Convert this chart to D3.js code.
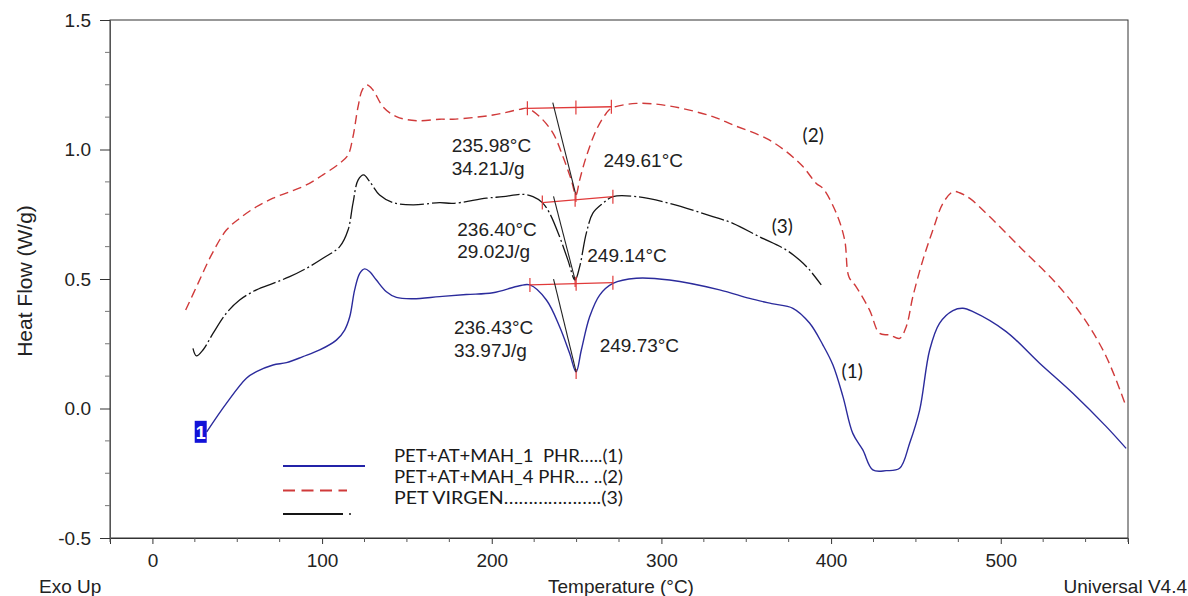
<!DOCTYPE html>
<html>
<head>
<meta charset="utf-8">
<script src="https://cdn.jsdelivr.net/npm/d3@7"></script>
<style>
  html, body { margin: 0; padding: 0; background: #fff; }
  svg { display: block; }
  .ax text { font-family: "Liberation Sans", Arial, sans-serif; font-size: 19px; fill: #222; }
  .lbl { font-family: "Liberation Sans", Arial, sans-serif; font-size: 19px; fill: #222; }
  .cal { font-family: Lato, "Open Sans", sans-serif; font-size: 18px; fill: #1a1a1a; white-space: pre; }
</style>
</head>
<body>
<svg id="chart" width="1188" height="596"></svg>
<script>
// ---------- DATA ----------
// Curve (1) PET+AT+MAH_1 PHR : [Temperature °C, Heat Flow W/g]
const curve1 = [[32,-0.09],[43.6,0.02],[55.4,0.117],[61.3,0.142],[71.1,0.168],[79,0.177],[88.7,0.2],[98.6,0.226],[108.4,0.264],[113.3,0.303],[116.3,0.354],[119.2,0.458],[122.2,0.522],[125.1,0.539],[128.1,0.528],[132,0.496],[137.9,0.451],[143.8,0.429],[153.6,0.424],[169.3,0.432],[185,0.44],[200.7,0.447],[216.4,0.474],[222.5,0.477],[232.2,0.419],[240,0.316],[245.9,0.213],[249.7,0.141],[252.8,0.226],[257.7,0.354],[263.6,0.438],[271.4,0.483],[285.2,0.503],[304.8,0.496],[334.3,0.458],[352,0.425],[365,0.405],[377.5,0.387],[387.3,0.33],[395.2,0.245],[401.1,0.168],[407,0.046],[412.8,-0.096],[418.7,-0.16],[424.6,-0.237],[432.5,-0.24],[440.4,-0.231],[446.3,-0.134],[452.2,-0.006],[458.1,0.226],[463.9,0.329],[471.8,0.378],[477.7,0.387],[483.6,0.374],[503.2,0.297],[522.9,0.175],[542.5,0.059],[562.2,-0.07],[573.9,-0.154]];
// Curve (2) PET+AT+MAH_4 PHR
const curve2 = [[19.6,0.38],[26.9,0.483],[34.8,0.593],[43.6,0.689],[51.4,0.734],[61.3,0.779],[71.1,0.812],[80.9,0.837],[90.7,0.863],[100.5,0.902],[110.4,0.947],[115.3,0.979],[118.2,1.049],[121.2,1.165],[123.7,1.23],[126.5,1.249],[130,1.23],[135.9,1.165],[143.8,1.127],[155.6,1.111],[169.3,1.117],[177.1,1.117],[200.7,1.133],[216.4,1.155],[221,1.159],[228.2,1.127],[236.1,1.063],[242,0.972],[246.9,0.882],[249.6,0.824],[251.8,0.882],[255.7,0.972],[261.6,1.075],[267.5,1.14],[270.5,1.159],[285.2,1.178],[304.8,1.168],[330.3,1.127],[342.1,1.095],[361.8,1.043],[373.6,0.992],[383.4,0.934],[391.3,0.869],[395.2,0.85],[403.1,0.754],[408,0.651],[410.5,0.509],[414.8,0.47],[422.7,0.38],[428.6,0.29],[434.5,0.284],[440.4,0.271],[444.3,0.316],[448.2,0.432],[454.1,0.573],[460,0.689],[465.9,0.792],[471.8,0.837],[475.7,0.833],[481.6,0.812],[493.4,0.741],[513,0.612],[532.7,0.483],[548.4,0.354],[562.2,0.2],[573.9,0.007]];
// Curve (3) PET VIRGEN
const curve3 = [[23.9,0.232],[25.9,0.203],[29.8,0.226],[35.7,0.29],[43.6,0.368],[51.4,0.419],[61.3,0.458],[71.1,0.483],[80.9,0.509],[90.7,0.541],[100.5,0.58],[110.4,0.625],[115.3,0.689],[118.2,0.792],[121.2,0.882],[124.5,0.902],[128.1,0.876],[133.9,0.824],[141.8,0.795],[153.6,0.786],[169.3,0.795],[177.1,0.792],[196.8,0.812],[206.6,0.818],[218.4,0.827],[224.3,0.818],[229.8,0.795],[234.1,0.754],[240,0.663],[244.9,0.573],[249.1,0.496],[251.8,0.547],[255.7,0.676],[259.6,0.754],[265.5,0.792],[271.4,0.818],[285.2,0.818],[304.8,0.792],[330.3,0.741],[342.1,0.715],[357.8,0.663],[373.6,0.612],[381.4,0.573],[387.3,0.535],[394.2,0.477]];

const xTicks = [0, 100, 200, 300, 400, 500];
const yTicks = [-0.5, 0.0, 0.5, 1.0, 1.5];
const yTickLabels = ["-0.5", "0.0", "0.5", "1.0", "1.5"];
const legendLabels = ["PET+AT+MAH_1  PHR…..(1)", "PET+AT+MAH_4 PHR… ..(2)", "PET VIRGEN………………..(3)"];
const curveTags = ["(1)", "(2)", "(3)"];
const curveTagPos = [[406.2, 0.118], [383.2, 1.029], [365.0, 0.678]];

// melting-peak integrations, order: curve 2, curve 3, curve 1
const meltOnset = [235.98, 236.40, 236.43];
const meltEnthalpy = ["34.21J/g", "29.02J/g", "33.97J/g"];
const meltPeakT = [249.61, 249.14, 249.73];
const meltPeakV = [0.824, 0.496, 0.141];
const baseStart = [[221.0, 1.159], [229.8, 0.795], [222.5, 0.477]];
const baseEnd = [[270.5, 1.165], [271.4, 0.818], [271.4, 0.486]];
const onsetLabelPos = [[176.4, 0.990], [179.7, 0.667], [177.7, 0.288]];
const enthLabelPos = [[176.4, 0.902], [179.7, 0.581], [177.7, 0.198]];
const peakLabelPos = [[265.9, 0.931], [256.3, 0.564], [263.6, 0.219]];

// ---------- DRAW ----------
const svg = d3.select("#chart");
const x = d3.scaleLinear().domain([-25, 575]).range([110, 1128]);
const y = d3.scaleLinear().domain([-0.5, 1.5]).range([538, 20]);

const blue = "#2b2b9c", red = "#d03a3a", black = "#151515";

// frame
svg.append("rect").attr("x", x(-25)).attr("y", y(1.5))
  .attr("width", x(575) - x(-25)).attr("height", y(-0.5) - y(1.5))
  .attr("fill", "none").attr("stroke", "#333").attr("stroke-width", 1);

// x axis
const gx = svg.append("g").attr("class", "ax").attr("transform", `translate(0,${y(-0.5)})`)
  .call(d3.axisBottom(x).tickValues(xTicks).tickSize(6).tickPadding(10).tickFormat(d3.format("d")));
gx.select(".domain").attr("stroke", "#333");
gx.selectAll(".tick line").attr("stroke", "#333");
const xMinor = d3.range(-25, 576, 25).filter(v => !xTicks.includes(v));
svg.append("g").selectAll("line").data(xMinor).join("line")
  .attr("x1", d => x(d)).attr("x2", d => x(d))
  .attr("y1", y(-0.5)).attr("y2", y(-0.5) + 4).attr("stroke", "#555");

// y axis
const gy = svg.append("g").attr("class", "ax").attr("transform", `translate(${x(-25)},0)`)
  .call(d3.axisLeft(y).tickValues(yTicks).tickSize(10).tickPadding(9)
    .tickFormat((d, i) => yTickLabels[i]));
gy.select(".domain").attr("stroke", "#555");
gy.selectAll(".tick line").attr("stroke", "#333");
const yMinor = d3.range(-0.5, 1.5001, 0.125).filter(v => !yTicks.some(t => Math.abs(t - v) < 1e-6));
svg.append("g").selectAll("line").data(yMinor).join("line")
  .attr("x1", x(-25) - 5).attr("x2", x(-25))
  .attr("y1", d => y(d)).attr("y2", d => y(d)).attr("stroke", "#777");

// axis titles
svg.append("text").attr("class", "lbl").attr("transform", `translate(32,${(y(1.5) + y(-0.5)) / 2 + 2}) rotate(-90)`)
  .attr("text-anchor", "middle").style("font-size", "21px").text("Heat Flow (W/g)");
svg.append("text").attr("class", "lbl").attr("x", 39).attr("y", 593).text("Exo Up");
svg.append("text").attr("class", "lbl").attr("x", 621).attr("y", 593).attr("text-anchor", "middle").text("Temperature (°C)");
svg.append("text").attr("class", "lbl").attr("x", 1187).attr("y", 593).attr("text-anchor", "end").text("Universal V4.4");

// curves
const line = d3.line().x(d => x(d[0])).y(d => y(d[1])).curve(d3.curveCatmullRom.alpha(0.5));
svg.append("path").datum(curve1).attr("d", line).attr("fill", "none").attr("stroke", blue).attr("stroke-width", 1.4);
svg.append("path").datum(curve2).attr("d", line).attr("fill", "none").attr("stroke", red).attr("stroke-width", 1.4).attr("stroke-dasharray", "9,5");
svg.append("path").datum(curve3).attr("d", line).attr("fill", "none").attr("stroke", black).attr("stroke-width", 1.3).attr("stroke-dasharray", "24,3,2,3");

// melting integration annotations
meltOnset.forEach((on, i) => {
  const s = baseStart[i], e = baseEnd[i];
  const bAt = t => s[1] + (t - s[0]) / (e[0] - s[0]) * (e[1] - s[1]);
  const g = svg.append("g");
  g.append("line").attr("x1", x(s[0])).attr("y1", y(s[1])).attr("x2", x(e[0])).attr("y2", y(e[1]))
    .attr("stroke", "#e03a3a").attr("stroke-width", 1.3);
  [s[0], meltPeakT[i], e[0]].forEach(t => {
    g.append("line").attr("x1", x(t)).attr("x2", x(t)).attr("y1", y(bAt(t)) - 7).attr("y2", y(bAt(t)) + 7)
      .attr("stroke", "#e03a3a").attr("stroke-width", 1.2);
  });
  g.append("line").attr("x1", x(meltPeakT[i])).attr("x2", x(meltPeakT[i]))
    .attr("y1", y(meltPeakV[i]) - 3).attr("y2", y(meltPeakV[i]) + 7)
    .attr("stroke", "#e03a3a").attr("stroke-width", 1.2);
  g.append("line").attr("x1", x(on)).attr("y1", y(bAt(on) + 0.02))
    .attr("x2", x(meltPeakT[i])).attr("y2", y(meltPeakV[i]))
    .attr("stroke", "#222").attr("stroke-width", 1.1);
  svg.append("text").attr("class", "lbl").attr("x", x(onsetLabelPos[i][0])).attr("y", y(onsetLabelPos[i][1])).text(on.toFixed(2) + "°C");
  svg.append("text").attr("class", "lbl").attr("x", x(enthLabelPos[i][0])).attr("y", y(enthLabelPos[i][1])).text(meltEnthalpy[i]);
  svg.append("text").attr("class", "lbl").attr("x", x(peakLabelPos[i][0])).attr("y", y(peakLabelPos[i][1])).text(meltPeakT[i].toFixed(2) + "°C");
});

// curve tags
curveTags.forEach((t, i) => {
  svg.append("text").attr("class", "cal").style("font-size", "19px")
    .attr("x", x(curveTagPos[i][0])).attr("y", y(curveTagPos[i][1])).text(t);
});

// start marker "1"
const m0 = curve1[0];
svg.append("rect").attr("x", x(m0[0]) - 12).attr("y", y(m0[1]) - 11).attr("width", 12).attr("height", 22).attr("fill", "#1212d8");
svg.append("text").attr("x", x(m0[0]) - 6).attr("y", y(m0[1]) + 7).attr("text-anchor", "middle")
  .style("font-family", "Liberation Sans, Arial, sans-serif").style("font-size", "18px").style("font-weight", "bold")
  .attr("fill", "#fff").text("1");

// legend
const leg = svg.append("g");
leg.append("line").attr("x1", 283).attr("x2", 365).attr("y1", 466).attr("y2", 466).attr("stroke", "#2323a8").attr("stroke-width", 1.8);
leg.append("line").attr("x1", 283).attr("x2", 347).attr("y1", 490.5).attr("y2", 490.5).attr("stroke", red).attr("stroke-width", 1.8).attr("stroke-dasharray", "12,6.5");
leg.append("line").attr("x1", 283).attr("x2", 343).attr("y1", 514).attr("y2", 514).attr("stroke", black).attr("stroke-width", 1.8);
leg.append("circle").attr("cx", 350).attr("cy", 514).attr("r", 1).attr("fill", black);
legendLabels.forEach((t, i) => {
  leg.append("text").attr("class", "cal").attr("x", 394).attr("y", 462 + i * 21)
    .attr("textLength", 229).attr("lengthAdjust", "spacingAndGlyphs").text(t);
});
</script>
</body>
</html>
